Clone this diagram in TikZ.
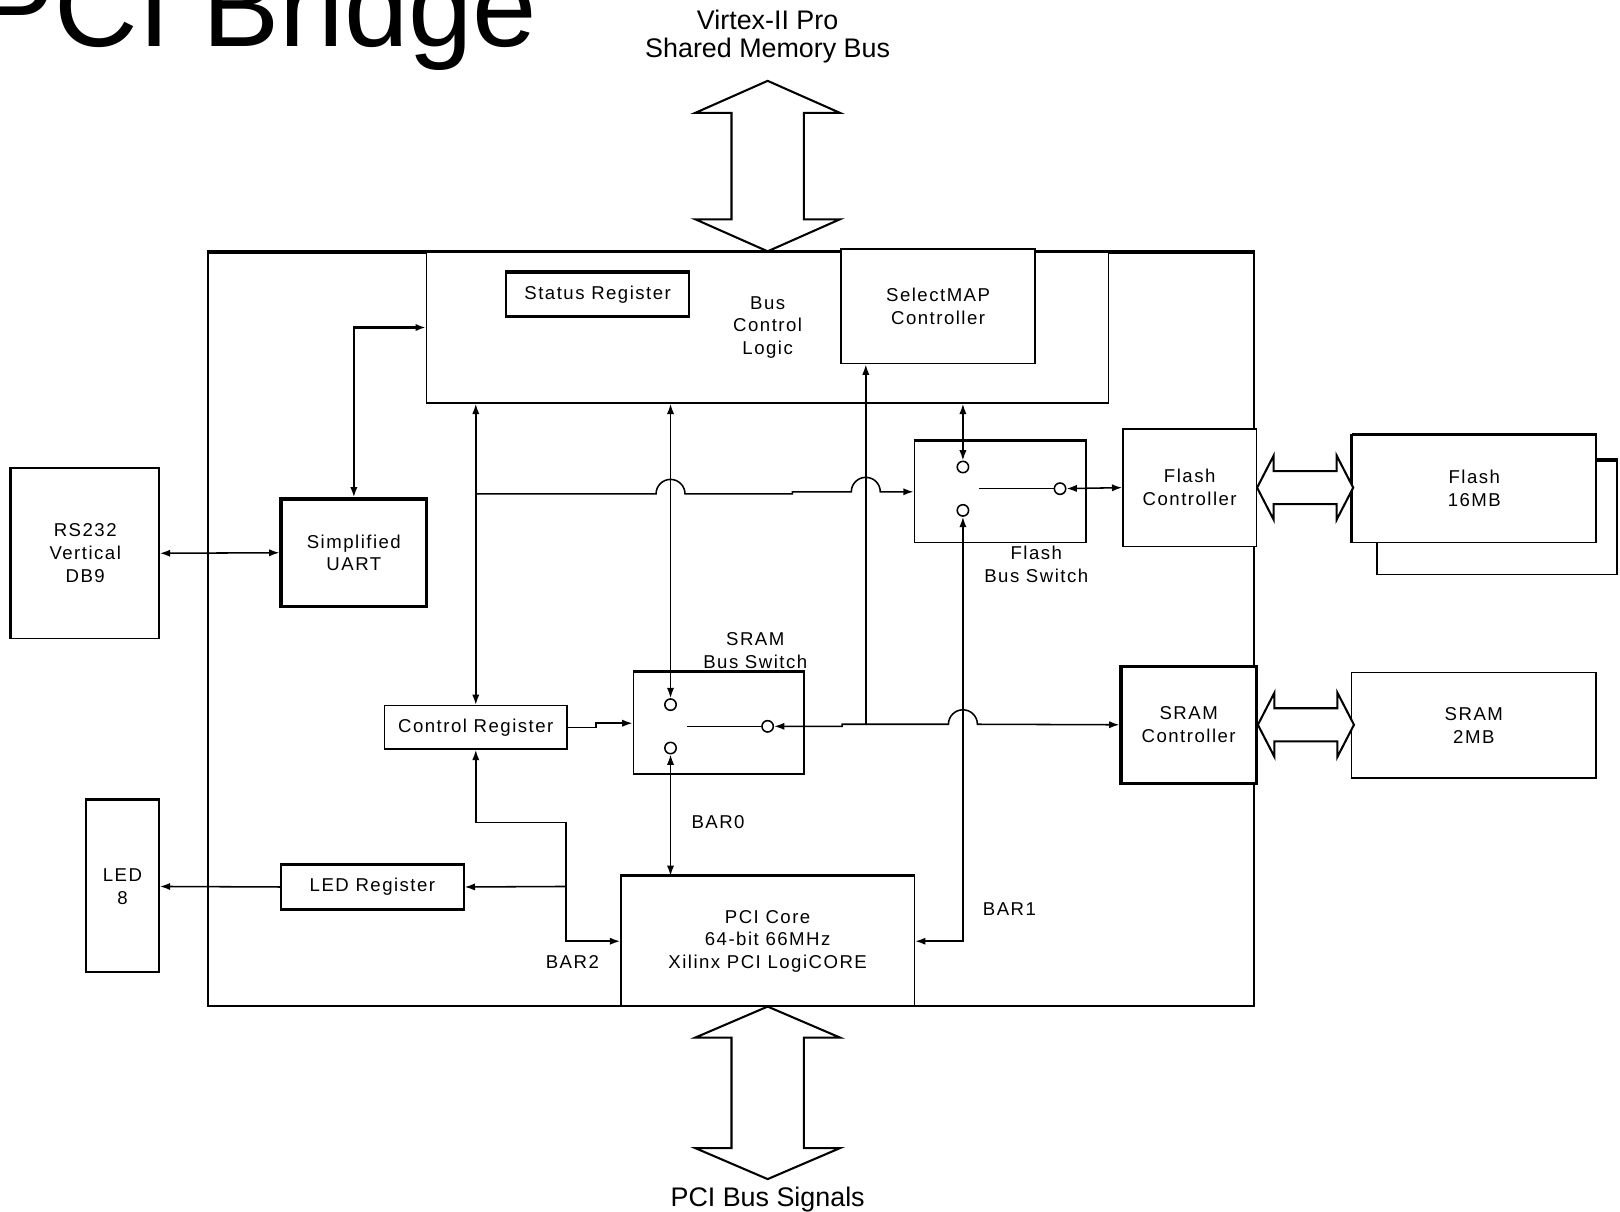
\documentclass[tikz,border=0pt]{standalone}
\usepackage{fontspec}
\setmainfont{Liberation Sans}
\newfontfamily\blockfont[LetterSpace=8]{Liberation Sans}
\usetikzlibrary{arrows.meta}

\begin{document}
\begin{tikzpicture}[x=0.5pt,y=-0.5pt]

    \tikzset{
      block/.style={
        draw,
        fill=white,
        line width=0.75pt,
        inner sep=0pt,
        align=center,
        font=\blockfont\fontsize{9}{11}\selectfont,
      },
      heavy/.style={
        block,
        line width=1.5pt,
      },
      tag/.style={
        inner sep=0pt,
        align=center,
        font=\blockfont\fontsize{9}{11}\selectfont,
      },
      contact/.style={
        draw,
        circle,
        fill=white,
        line width=0.75pt,
        inner sep=0pt,
        minimum size=5.5pt,
      },
      wire/.style={
        line width=0.75pt,
        >={Latex[length=5pt,width=3.5pt]},
      },
      bus/.style={
        line width=1pt,
        fill=white,
      },
    }
    \useasboundingbox (0,0) rectangle (1568,1173);

    \node[tag, font=\fontsize{56}{60}\selectfont, anchor=base west] (title) at (-22,45) {PCI Bridge};
    \node[tag, font=\fontsize{13}{13.5}\selectfont] (smb) at (743,35.5) {Virtex-II Pro\\Shared Memory Bus};
    \node[tag, font=\fontsize{13}{13.5}\selectfont] (pbs) at (743,1161) {PCI Bus Signals};

    \node[draw, line width=1pt, inner sep=0pt, minimum width=506.5pt, minimum height=364.5pt] (frame) at (707.5,609.5) {};
    \draw[line width=1.8pt] (frame.north west) -- (frame.north east);

	\node[block, minimum width=330pt, minimum height=73pt] (bcl) at (743,317) {Bus\\Control\\Logic};
	\node[block, minimum width=88.5pt, minimum height=21pt] (status) at (578.5,285) {Status Register};
	\node[block, minimum width=94pt, minimum height=55.5pt] (selmap) at (908,296.5) {SelectMAP\\Controller};
	\node[heavy, minimum width=70.5pt, minimum height=52pt] (uart) at (342.5,535) {Simplified\\UART};
	\node[block, minimum width=71.5pt, minimum height=82.5pt] (rs232) at (82.5,535.5) {RS232\\Vertical\\DB9};
	\node[block, minimum width=83pt, minimum height=49pt] (fsw) at (968,476) {};
	\node[block, minimum width=64.5pt, minimum height=57pt] (fctl) at (1151.5,472) {Flash\\Controller};
	\node[block, minimum width=116pt, minimum height=55pt] (flashb) at (1449,501) {};
	\draw[line width=1.5pt] (flashb.north west) -- (flashb.north east);
	\node[block, minimum width=118pt, minimum height=52pt] (flash) at (1427,473) {Flash\\16MB};
	\node[heavy, minimum width=65.5pt, minimum height=56.5pt] (sctl) at (1150.5,701.5) {SRAM\\Controller};
	\node[block, minimum width=118.5pt, minimum height=51pt] (sram) at (1426.5,702) {SRAM\\2MB};
	\node[block, minimum width=88.5pt, minimum height=21pt] (creg) at (460.5,704) {Control Register};
	\node[block, minimum width=82.5pt, minimum height=49pt] (ssw) at (695.5,700) {};
	\node[block, minimum width=142pt, minimum height=62.5pt] (pci) at (743,911) {PCI Core\\64-bit 66MHz\\Xilinx PCI LogiCORE};
	\node[block, minimum width=35.5pt, minimum height=83pt] (led) at (118.5,858) {LED\\8};
	\node[block, minimum width=88.5pt, minimum height=21pt] (ledreg) at (360.5,858.5) {LED Register};

	\foreach \n in {status,fsw,ssw,pci,led,ledreg,flash}
	  \draw[line width=1.5pt] (\n.north west) -- (\n.north east);
	\foreach \n in {status,ledreg}
	  \draw[line width=1.5pt] (\n.south west) -- (\n.south east);
	\foreach \n in {rs232,flash}
	  \draw[line width=1.5pt] (\n.north west) -- (\n.south west);

	\node[tag] (fswl) at (1003,546) {Flash\\Bus Switch};
	\node[tag] (sswl) at (731,630) {SRAM\\Bus Switch};
	\node[tag] (bar0) at (695,796) {BAR0};
	\node[tag] (bar1) at (977,880) {BAR1};
	\node[tag] (bar2) at (554,931) {BAR2};

	\node[contact] (fsa) at (932,452) {};
	\node[contact] (fsb) at (932,494) {};
	\node[contact] (fsc) at (1026,473) {};
	\node[contact] (ssa) at (649,682) {};
	\node[contact] (ssb) at (649,724) {};
	\node[contact] (ssc) at (743,703) {};
	\coordinate (fpiv) at (948,473);
	\coordinate (spiv) at (665,703);
	\coordinate (j1) at (460.5,478);
	\coordinate (j2) at (838,701);
	\coordinate (j3) at (548,858);
	\coordinate (j4) at (548,796);

	\draw[bus] (bcl.north) -- ++(-70,-31) -- ++(35,0) -- ++(0,-103) -- ++(-35,0) -- ++(70,-31)
	  -- ++(70,31) -- ++(-35,0) -- ++(0,103) -- ++(35,0) -- cycle;
	\draw[bus] (pci.south) -- ++(-70,30) -- ++(35,0) -- ++(0,107) -- ++(-35,0) -- ++(70,30)
	  -- ++(70,-30) -- ++(-35,0) -- ++(0,-107) -- ++(35,0) -- cycle;
	\draw[bus] (fctl.east) -- ++(16,-31) -- ++(0,15) -- ++(61,0) -- ++(0,-15) -- ++(16,31)
	  -- ++(-16,31) -- ++(0,-15) -- ++(-61,0) -- ++(0,15) -- cycle;
	\draw[bus] (sctl.east) -- ++(16,-31) -- ++(0,15) -- ++(61,0) -- ++(0,-15) -- ++(16,31)
	  -- ++(-16,31) -- ++(0,-15) -- ++(-61,0) -- ++(0,15) -- cycle;

	\draw[wire,<->,line width=1.3pt] (uart.north) |- (bcl.west);
	\draw[wire,<->] (rs232.east) -- (uart.west);
	\draw[wire,<->] (bcl.south -| creg.north) -- (creg.north);
	\draw[wire,->] (j1) -- (635,478) arc[start angle=180,end angle=0,radius=7pt] -- (767,478) -- (767,476)
	  -- (824,476) arc[start angle=180,end angle=0,radius=7pt] -- (fsw.west);
	\draw[wire,<->] (bcl.south -| ssa) -- (ssa);
	\draw[wire,->] (j2) -- (selmap.south -| j2);
	\draw[wire,<->] (bcl.south -| fsa) -- (fsa);
	\draw[wire,<->] (fsb) |- (pci.east);
	\draw[wire,<->] (ssc) -- (815,703) -- (815,701) -- (918,701) arc[start angle=180,end angle=0,radius=7pt] -- (sctl.west);
	\draw[wire,->] (creg.east) -- (577,704) -- (577,700) -- (ssw.west);
	\draw[wire,<->] (ssb) -- (pci.north -| ssb);
	\draw[wire,<->] (creg.south) |- (j4) -- (j3) |- (pci.west);
	\draw[wire,->] (j3) -- (ledreg.east);
	\draw[wire,->] (ledreg.west) -- (led.east);
	\draw[wire] (fpiv) -- (fsc);
	\draw[wire,<->] (fsc) -- (fctl.west);
	\draw[wire] (spiv) -- (ssc);

\end{tikzpicture}
\end{document}
